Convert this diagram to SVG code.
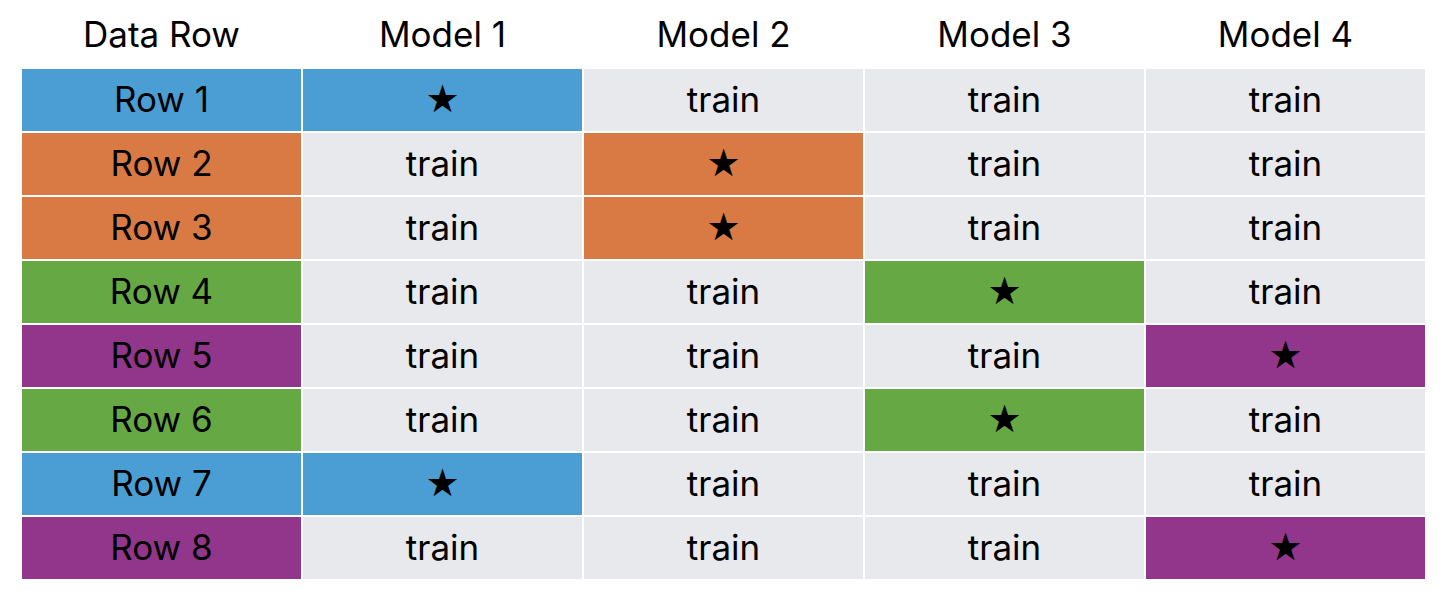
<svg xmlns="http://www.w3.org/2000/svg" width="1446" height="606" viewBox="0 0 1446 606">
<style>
.t{font-family:Inter,"Liberation Sans",sans-serif;font-size:35px;fill:#000;text-anchor:middle}
.s{font-family:"DejaVu Sans",sans-serif;font-size:38px;fill:#000;text-anchor:middle}
.g{fill:#E7E9EC}.b{fill:#4A9ED3}.o{fill:#D97A45}.gr{fill:#66A844}.p{fill:#92368B}
</style>
<rect width="1446" height="606" fill="#fff"/>
<g id="header">
<text class="t" x="161.5" y="47">Data Row</text>
<text class="t" x="442.5" y="47">Model 1</text>
<text class="t" x="723.5" y="47">Model 2</text>
<text class="t" x="1004.5" y="47">Model 3</text>
<text class="t" x="1285.5" y="47">Model 4</text>
</g>
<g id="row1">
<rect class="b" x="22" y="69" width="279" height="62"/><text class="t" x="161.5" y="112">Row 1</text>
<rect class="b" x="303" y="69" width="279" height="62"/><text class="s" x="442.5" y="112">★</text>
<rect class="g" x="584" y="69" width="279" height="62"/><text class="t" x="723.5" y="112">train</text>
<rect class="g" x="865" y="69" width="279" height="62"/><text class="t" x="1004.5" y="112">train</text>
<rect class="g" x="1146" y="69" width="279" height="62"/><text class="t" x="1285.5" y="112">train</text>
</g>
<g id="row2">
<rect class="o" x="22" y="133" width="279" height="62"/><text class="t" x="161.5" y="176">Row 2</text>
<rect class="g" x="303" y="133" width="279" height="62"/><text class="t" x="442.5" y="176">train</text>
<rect class="o" x="584" y="133" width="279" height="62"/><text class="s" x="723.5" y="176">★</text>
<rect class="g" x="865" y="133" width="279" height="62"/><text class="t" x="1004.5" y="176">train</text>
<rect class="g" x="1146" y="133" width="279" height="62"/><text class="t" x="1285.5" y="176">train</text>
</g>
<g id="row3">
<rect class="o" x="22" y="197" width="279" height="62"/><text class="t" x="161.5" y="240">Row 3</text>
<rect class="g" x="303" y="197" width="279" height="62"/><text class="t" x="442.5" y="240">train</text>
<rect class="o" x="584" y="197" width="279" height="62"/><text class="s" x="723.5" y="240">★</text>
<rect class="g" x="865" y="197" width="279" height="62"/><text class="t" x="1004.5" y="240">train</text>
<rect class="g" x="1146" y="197" width="279" height="62"/><text class="t" x="1285.5" y="240">train</text>
</g>
<g id="row4">
<rect class="gr" x="22" y="261" width="279" height="62"/><text class="t" x="161.5" y="304">Row 4</text>
<rect class="g" x="303" y="261" width="279" height="62"/><text class="t" x="442.5" y="304">train</text>
<rect class="g" x="584" y="261" width="279" height="62"/><text class="t" x="723.5" y="304">train</text>
<rect class="gr" x="865" y="261" width="279" height="62"/><text class="s" x="1004.5" y="304">★</text>
<rect class="g" x="1146" y="261" width="279" height="62"/><text class="t" x="1285.5" y="304">train</text>
</g>
<g id="row5">
<rect class="p" x="22" y="325" width="279" height="62"/><text class="t" x="161.5" y="368">Row 5</text>
<rect class="g" x="303" y="325" width="279" height="62"/><text class="t" x="442.5" y="368">train</text>
<rect class="g" x="584" y="325" width="279" height="62"/><text class="t" x="723.5" y="368">train</text>
<rect class="g" x="865" y="325" width="279" height="62"/><text class="t" x="1004.5" y="368">train</text>
<rect class="p" x="1146" y="325" width="279" height="62"/><text class="s" x="1285.5" y="368">★</text>
</g>
<g id="row6">
<rect class="gr" x="22" y="389" width="279" height="62"/><text class="t" x="161.5" y="432">Row 6</text>
<rect class="g" x="303" y="389" width="279" height="62"/><text class="t" x="442.5" y="432">train</text>
<rect class="g" x="584" y="389" width="279" height="62"/><text class="t" x="723.5" y="432">train</text>
<rect class="gr" x="865" y="389" width="279" height="62"/><text class="s" x="1004.5" y="432">★</text>
<rect class="g" x="1146" y="389" width="279" height="62"/><text class="t" x="1285.5" y="432">train</text>
</g>
<g id="row7">
<rect class="b" x="22" y="453" width="279" height="62"/><text class="t" x="161.5" y="496">Row 7</text>
<rect class="b" x="303" y="453" width="279" height="62"/><text class="s" x="442.5" y="496">★</text>
<rect class="g" x="584" y="453" width="279" height="62"/><text class="t" x="723.5" y="496">train</text>
<rect class="g" x="865" y="453" width="279" height="62"/><text class="t" x="1004.5" y="496">train</text>
<rect class="g" x="1146" y="453" width="279" height="62"/><text class="t" x="1285.5" y="496">train</text>
</g>
<g id="row8">
<rect class="p" x="22" y="517" width="279" height="62"/><text class="t" x="161.5" y="560">Row 8</text>
<rect class="g" x="303" y="517" width="279" height="62"/><text class="t" x="442.5" y="560">train</text>
<rect class="g" x="584" y="517" width="279" height="62"/><text class="t" x="723.5" y="560">train</text>
<rect class="g" x="865" y="517" width="279" height="62"/><text class="t" x="1004.5" y="560">train</text>
<rect class="p" x="1146" y="517" width="279" height="62"/><text class="s" x="1285.5" y="560">★</text>
</g>
<g id="connectors"/>
</svg>
